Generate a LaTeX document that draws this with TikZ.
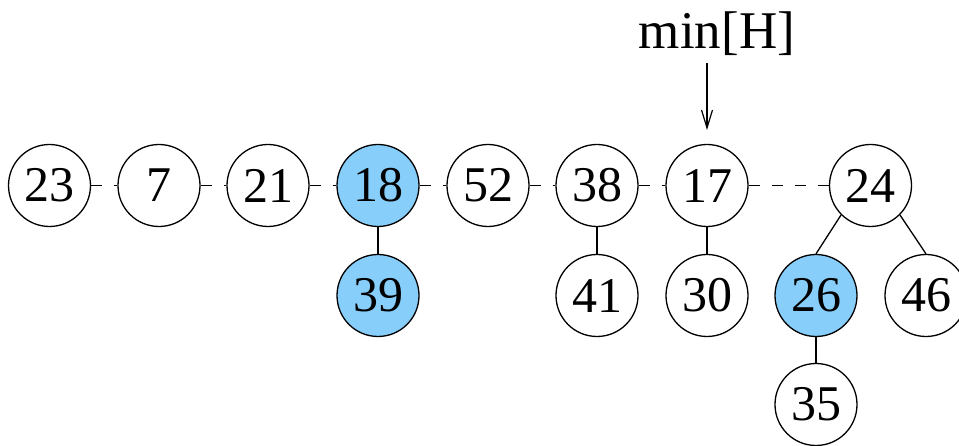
\documentclass[tikz,border=0pt]{standalone}
\usepackage{fontspec}
\setmainfont{Liberation Serif}
\usetikzlibrary{arrows.meta}
\definecolor{marked}{RGB}{135,206,250}
\begin{document}
\begin{tikzpicture}[x=1pt,y=-1pt,
  key/.style={circle,draw,line width=1.3pt,minimum size=82pt,inner sep=0pt,
    font=\fontsize{50}{50}\selectfont},
  markedkey/.style={key,fill=marked},
  rootlink/.style={line width=1.3pt,dash pattern=on 11pt off 12pt},
  childlink/.style={line width=1.3pt}]
\useasboundingbox (0,0) rectangle (959,446);
\clip (0,0) rectangle (959,446);
% root list
\node[key] (n23) at (49.5,185.5) {23};
\node[key] (n7) at (159,185.5) {7};
\node[key] (n21) at (268,185.5) {21};
\node[markedkey] (n18) at (378,185.5) {18};
\node[key] (n52) at (488,185.5) {52};
\node[key] (n38) at (597,185.5) {38};
\node[key] (n17) at (707,185.5) {17};
\node[key] (n24) at (870.5,185.5) {24};
% children
\node[markedkey] (n39) at (378,295.5) {39};
\node[key] (n41) at (597,295.5) {41};
\node[key] (n30) at (707,295.5) {30};
\node[markedkey] (n26) at (816,295.5) {26};
\node[key] (n46) at (926,295.5) {46};
\node[key] (n35) at (816,404.5) {35};
% min pointer
\node[anchor=base,font=\fontsize{53}{53}\selectfont,inner sep=0pt] (minH) at (717,49) {min[H]};
\coordinate (ptrfrom) at (707,63);
\coordinate (ptrto) at (707,130);
\draw[line width=1.2pt,-{Straight Barb[length=18pt,width=11pt,line width=1.2pt]}] (ptrfrom) -- (ptrto);
% links in the root list
\foreach \a/\b in {n23/n7,n7/n21,n21/n18,n18/n52,n52/n38,n38/n17,n17/n24}
  \draw[rootlink] (\a.east) -- (\b.west);
% parent-child links
\draw[childlink] (n18.south) -- (n39.north);
\draw[childlink] (n38.south) -- (n41.north);
\draw[childlink] (n17.south) -- (n30.north);
\draw[childlink] (n24.225) -- (n26.north);
\draw[childlink] (n24.-45) -- (n46.north);
\draw[childlink] (n26.south) -- (n35.north);
\end{tikzpicture}
\end{document}
